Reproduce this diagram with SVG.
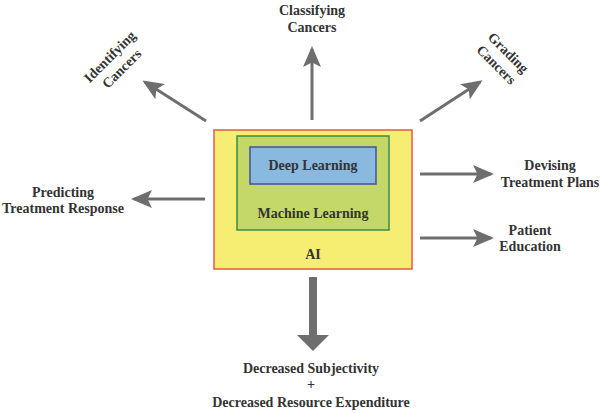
<svg xmlns="http://www.w3.org/2000/svg" width="600" height="413" viewBox="0 0 600 413">
<defs>
<marker id="ah" markerWidth="7" markerHeight="6" refX="6" refY="3" orient="auto" markerUnits="strokeWidth">
<path d="M0,0 L7,3 L0,6 L1.5,3 Z" fill="#6e6e6e"/>
</marker>
</defs>
<style>
text{font-family:'Liberation Serif','Times New Roman',serif;font-weight:bold;font-size:14px;fill:#333;text-anchor:middle}
.c{stroke:#6e6e6e;stroke-width:3;fill:none;marker-end:url(#ah)}
</style>
<rect width="600" height="413" fill="#fff"/>
<g id="ai">
<rect x="214" y="130" width="198" height="139" fill="#f5ee72" stroke="#e5584a" stroke-width="1.5"/>
<text x="313" y="259">AI</text>
</g>
<g id="ml">
<rect x="237" y="136" width="152" height="94" fill="#c4d86a" stroke="#3f8a45" stroke-width="1.5"/>
<text x="313" y="218">Machine Learning</text>
</g>
<g id="dl">
<rect x="250" y="147" width="126" height="37" fill="#8ab9e0" stroke="#44509c" stroke-width="1.5"/>
<text x="313" y="170">Deep Learning</text>
</g>
<g id="connectors">
<line class="c" x1="312" y1="120" x2="312" y2="49"/>
<line class="c" x1="206" y1="121" x2="145" y2="82"/>
<line class="c" x1="420" y1="121" x2="480" y2="82"/>
<line class="c" x1="205" y1="199" x2="134" y2="199"/>
<line class="c" x1="420" y1="174" x2="491" y2="174"/>
<line class="c" x1="420" y1="238" x2="491" y2="238"/>
<path d="M309,277 H317 V335 H329 L313,351 L297,335 H309 Z" fill="#6e6e6e"/>
</g>
<g id="classifying">
<text x="312" y="15">Classifying</text>
<text x="312" y="32">Cancers</text>
</g>
<g id="identifying">
<text transform="translate(113,60) rotate(-45)">Identifying</text>
<text transform="translate(125,72) rotate(-45)">Cancers</text>
</g>
<g id="grading">
<text transform="translate(505,56) rotate(45)">Grading</text>
<text transform="translate(493,68) rotate(45)">Cancers</text>
</g>
<g id="predicting">
<text x="63" y="197">Predicting</text>
<text x="63" y="213">Treatment Response</text>
</g>
<g id="devising">
<text x="550" y="170">Devising</text>
<text x="550" y="187">Treatment Plans</text>
</g>
<g id="patient">
<text x="530" y="235">Patient</text>
<text x="530" y="251">Education</text>
</g>
<g id="outcome">
<text x="311" y="373">Decreased Subjectivity</text>
<text x="311" y="389">+</text>
<text x="311" y="407">Decreased Resource Expenditure</text>
</g>
</svg>
